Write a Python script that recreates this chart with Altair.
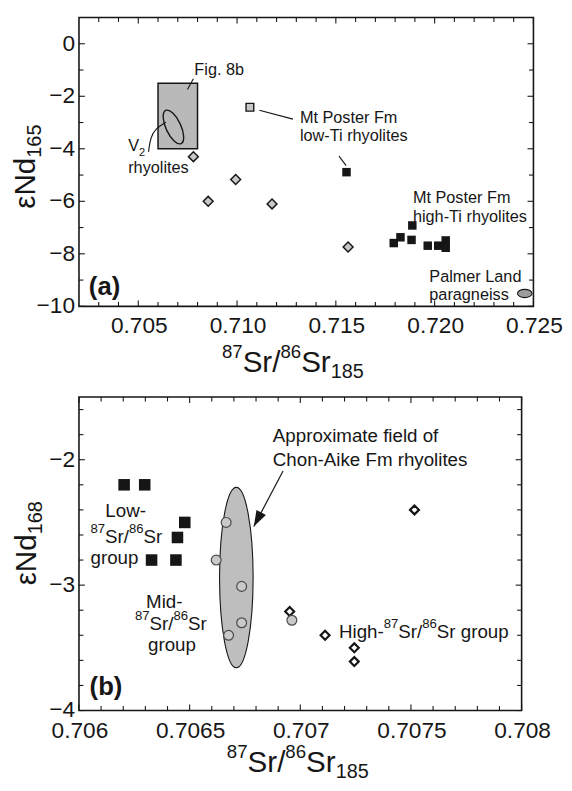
import altair as alt
import pandas as pd

FONT = "Liberation Sans"
INK = "#161616"
CHART_W, CHART_H = 564, 783

# ---------------- values: panel (a) ----------------
a_x_domain = [0.702, 0.725]
a_y_domain = [-10.0, 1.0]
a_x_major = [0.705, 0.710, 0.715, 0.720, 0.725]
a_x_labels = ["0.705", "0.710", "0.715", "0.720", "0.725"]
a_x_minor = [0.703, 0.704, 0.706, 0.707, 0.708, 0.709, 0.711, 0.712, 0.713,
             0.714, 0.716, 0.717, 0.718, 0.719, 0.721, 0.722, 0.723, 0.724]
a_y_major = [-10, -8, -6, -4, -2, 0]
a_y_labels = ["\u221210", "\u22128", "\u22126", "\u22124", "\u22122", "0"]
a_y_minor = [-9, -7, -5, -3, -1]

a_dia_x = [0.70779, 0.70854, 0.70993, 0.71177, 0.71562]
a_dia_y = [-4.30, -6.00, -5.17, -6.10, -7.74]
a_lowti_open_x = [0.71065]
a_lowti_open_y = [-2.42]
a_lowti_x = [0.71554]
a_lowti_y = [-4.89]
a_highti_x = [0.71793, 0.71827, 0.71887, 0.71883, 0.71965, 0.72018, 0.72056, 0.72056]
a_highti_y = [-7.59, -7.37, -6.92, -7.47, -7.69, -7.69, -7.49, -7.77]
a_box_x = [0.706, 0.708]
a_box_y = [-4.0, -1.5]
a_v2_x = [0.70678]
a_v2_y = [-3.17]
a_palmer_x = [0.72456]
a_palmer_y = [-9.51]

a_note_text = ["Fig. 8b", "Mt Poster Fm", "low-Ti rhyolites", "Mt Poster Fm",
               "high-Ti rhyolites", "Palmer Land", "paragneiss", "rhyolites"]
a_note_x = [0.70784, 0.71318, 0.71318, 0.71890, 0.71890, 0.71973, 0.71973, 0.70449]
a_note_y = [-1.20, -3.00, -3.71, -6.06, -6.79, -9.06, -9.74, -4.93]
a_v_x = [0.70449]
a_v_y = [-4.09]
a_tag_x = [0.7025]
a_tag_y = [-9.55]
a_lead_x = [0.70749, 0.71113, 0.71516]
a_lead_y = [-1.74, -2.53, -4.28]
a_lead_x2 = [0.70779, 0.71283, 0.71552]
a_lead_y2 = [-1.33, -2.87, -4.64]
a_curve_x = [0.70552, 0.70562, 0.70590, 0.70640]
a_curve_y = [-4.12, -3.55, -3.21, -2.99]

# ---------------- values: panel (b) ----------------
b_x_domain = [0.706, 0.708]
b_y_domain = [-4.0, -1.5]
b_x_major = [0.706, 0.7065, 0.707, 0.7075, 0.708]
b_x_labels = ["0.706", "0.7065", "0.707", "0.7075", "0.708"]
b_x_minor = [0.7061, 0.7062, 0.7063, 0.7064, 0.7066, 0.7067, 0.7068, 0.7069,
             0.7071, 0.7072, 0.7073, 0.7074, 0.7076, 0.7077, 0.7078, 0.7079]
b_y_major = [-4, -3, -2]
b_y_labels = ["\u22124", "\u22123", "\u22122"]
b_y_minor = [-3.8, -3.6, -3.4, -3.2, -2.8, -2.6, -2.4, -2.2, -1.8, -1.6]

b_sq_x = [0.706204, 0.706297, 0.706478, 0.706445, 0.706328, 0.706438]
b_sq_y = [-2.20, -2.20, -2.50, -2.62, -2.80, -2.80]
b_circ_x = [0.706665, 0.706620, 0.706735, 0.706735, 0.706676, 0.706962]
b_circ_y = [-2.50, -2.80, -3.01, -3.30, -3.40, -3.28]
b_dia_x = [0.707516, 0.706952, 0.707112, 0.707244, 0.707244]
b_dia_y = [-2.40, -3.21, -3.40, -3.50, -3.61]
b_field_x = [0.706711]
b_field_y = [-2.94]

b_note_text = ["Approximate field of", "Chon-Aike Fm rhyolites", "Low-", "group", "Mid-", "group"]
b_note_x = [0.706876, 0.706876, 0.706119, 0.706052, 0.706303, 0.706312]
b_note_y = [-1.862, -2.050, -2.459, -2.829, -3.182, -3.528]
b_iso_x = [0.706052, 0.706253]
b_iso_y = [-2.664, -3.355]
b_high_x = [0.707175]
b_high_y = [-3.418]
b_tag_x = [0.706048]
b_tag_y = [-3.877]
b_arrow_x = [0.706922]
b_arrow_y = [-2.09]
b_arrow_x2 = [0.70679]
b_arrow_y2 = [-2.532]

# ---------------- layout (pixels in chart space) ----------------
SA_X = alt.Scale(domain=a_x_domain, range=[72, 533], nice=False, zero=False)
SA_Y = alt.Scale(domain=a_y_domain, range=[297, 4], nice=False, zero=False)
SB_X = alt.Scale(domain=b_x_domain, range=[72, 521], nice=False, zero=False)
SB_Y = alt.Scale(domain=b_y_domain, range=[707, 389], nice=False, zero=False)

CW = {".": .278, "S": .667, "r": .333, "/": .278, " ": .278, "\u03b5": .45, "N": .722,
      "d": .556, "V": .667, "H": .722, "i": .222, "g": .556, "h": .556, "-": .333}


def tw(s, size):
    return sum(CW.get(c, 0.556) for c in s) * size


def enc_xy(xs, ys):
    return dict(x=alt.X("x:Q", scale=xs, axis=None), y=alt.Y("y:Q", scale=ys, axis=None))


def xy(xv, yv):
    return pd.DataFrame({"x": xv, "y": yv})


def ellipse_path(rx, ry):
    k = 0.5523
    f = lambda v: f"{v:.4f}"
    return (f"M{f(rx)},0 C{f(rx)},{f(k*ry)} {f(k*rx)},{f(ry)} 0,{f(ry)} "
            f"C{f(-k*rx)},{f(ry)} {f(-rx)},{f(k*ry)} {f(-rx)},0 "
            f"C{f(-rx)},{f(-k*ry)} {f(-k*rx)},{f(-ry)} 0,{f(-ry)} "
            f"C{f(k*rx)},{f(-ry)} {f(rx)},{f(-k*ry)} {f(rx)},0 Z")


def points(df, xs, ys, shape, size, fill, stroke=None, sw=0, angle=0):
    kw = dict(shape=shape, size=size, opacity=1, angle=angle)
    if fill is None:
        kw.update(filled=False, fill="transparent")
    else:
        kw.update(filled=True, fill=fill)
    if stroke is not None:
        kw.update(stroke=stroke, strokeWidth=sw)
    else:
        kw.update(strokeWidth=0)
    return alt.Chart(df).mark_point(**kw).encode(**enc_xy(xs, ys))


def rich(df, enc, pieces, size, angle=None, sup_ratio=0.65, sup_dy=0.48, sub_ratio=0.66, sub_dy=0.2):
    layers = []
    off = 0.0
    for txt, role in pieces:
        if role == "sup":
            fs, dy = size * sup_ratio, -size * sup_dy
        elif role == "sub":
            fs, dy = size * sub_ratio, size * sub_dy
        else:
            fs, dy = size, 0
        lead = len(txt) - len(txt.lstrip(" "))
        off += tw(" " * lead, fs)
        txt = txt.lstrip(" ")
        props = dict(text=txt, fontSize=fs, font=FONT, color=INK, align="left",
                     baseline="alphabetic", dx=off, dy=dy)
        if angle is not None:
            props["angle"] = angle
        layers.append(alt.Chart(df).mark_text(**props).encode(**enc))
        off += tw(txt, fs)
    return layers


def axes(xd, yd, xs, ys, xmaj, xlab, xmin, ymaj, ylab, ymin, xlab_dy):
    L_MAJ, L_MIN = 6, 4.5
    layers = []
    for vals, ln in ((xmaj, L_MAJ), (xmin, L_MIN)):
        df = pd.DataFrame({"v": vals, "yb": yd[0], "yt": yd[1]})
        layers.append(alt.Chart(df).mark_rule(color=INK, strokeWidth=1.1, y2Offset=-ln).encode(
            x=alt.X("v:Q", scale=xs, axis=None), y=alt.Y("yb:Q", scale=ys, axis=None), y2="yb:Q"))
        layers.append(alt.Chart(df).mark_rule(color=INK, strokeWidth=1.1, y2Offset=ln).encode(
            x=alt.X("v:Q", scale=xs, axis=None), y=alt.Y("yt:Q", scale=ys, axis=None), y2="yt:Q"))
    for vals, ln in ((ymaj, L_MAJ), (ymin, L_MIN)):
        df = pd.DataFrame({"v": vals, "xl": xd[0], "xr": xd[1]})
        layers.append(alt.Chart(df).mark_rule(color=INK, strokeWidth=1.1, x2Offset=ln).encode(
            y=alt.Y("v:Q", scale=ys, axis=None), x=alt.X("xl:Q", scale=xs, axis=None), x2="xl:Q"))
        layers.append(alt.Chart(df).mark_rule(color=INK, strokeWidth=1.1, x2Offset=-ln).encode(
            y=alt.Y("v:Q", scale=ys, axis=None), x=alt.X("xr:Q", scale=xs, axis=None), x2="xr:Q"))
    dfx = pd.DataFrame({"v": xmaj, "lab": xlab, "yb": yd[0]})
    layers.append(alt.Chart(dfx).mark_text(font=FONT, fontSize=23, color=INK, align="center",
                                           baseline="alphabetic", dy=xlab_dy, dx=1).encode(
        x=alt.X("v:Q", scale=xs, axis=None), y=alt.Y("yb:Q", scale=ys, axis=None), text="lab:N"))
    dfy = pd.DataFrame({"v": ymaj, "lab": ylab, "xl": xd[0]})
    layers.append(alt.Chart(dfy).mark_text(font=FONT, fontSize=23, color=INK, align="right",
                                           baseline="middle", dx=-4).encode(
        y=alt.Y("v:Q", scale=ys, axis=None), x=alt.X("xl:Q", scale=xs, axis=None), text="lab:N"))
    frame = pd.DataFrame({"x0": [xd[0]], "x1": [xd[1]], "y0": [yd[0]], "y1": [yd[1]]})
    layers.append(alt.Chart(frame).mark_rect(fillOpacity=0, stroke=INK, strokeWidth=1.6).encode(
        x=alt.X("x0:Q", scale=xs, axis=None), x2="x1:Q",
        y=alt.Y("y0:Q", scale=ys, axis=None), y2="y1:Q"))
    return layers


# ---------------- panel (a) ----------------
A = []
box = pd.DataFrame({"x0": [a_box_x[0]], "x1": [a_box_x[1]], "y0": [a_box_y[0]], "y1": [a_box_y[1]]})
A.append(alt.Chart(box).mark_rect(fill="#b9b9b9", stroke=INK, strokeWidth=1.5).encode(
    x=alt.X("x0:Q", scale=SA_X, axis=None), x2="x1:Q",
    y=alt.Y("y0:Q", scale=SA_Y, axis=None), y2="y1:Q"))
A.append(points(xy(a_v2_x, a_v2_y), SA_X, SA_Y, ellipse_path(0.41, 1.0), 1369, None, INK, 1.4, angle=335))
lead = pd.DataFrame({"x": a_lead_x, "y": a_lead_y, "x2": a_lead_x2, "y2": a_lead_y2})
A.append(alt.Chart(lead).mark_rule(color=INK, strokeWidth=1.1).encode(
    x=alt.X("x:Q", scale=SA_X, axis=None), y=alt.Y("y:Q", scale=SA_Y, axis=None), x2="x2:Q", y2="y2:Q"))
curve = pd.DataFrame({"x": a_curve_x, "y": a_curve_y, "o": list(range(len(a_curve_x)))})
A.append(alt.Chart(curve).mark_line(color=INK, strokeWidth=1.1, interpolate="basis").encode(
    x=alt.X("x:Q", scale=SA_X, axis=None), y=alt.Y("y:Q", scale=SA_Y, axis=None), order="o:Q"))
A.append(points(xy(a_dia_x, a_dia_y), SA_X, SA_Y, "diamond", 100, "#c8c8c8", INK, 1.5))
A.append(points(xy(a_lowti_open_x, a_lowti_open_y), SA_X, SA_Y, "square", 62, "#c8c8c8", INK, 1.4))
A.append(points(xy(a_lowti_x, a_lowti_y), SA_X, SA_Y, "square", 74, INK))
A.append(points(xy(a_highti_x, a_highti_y), SA_X, SA_Y, "square", 74, INK))
A.append(points(xy(a_palmer_x, a_palmer_y), SA_X, SA_Y, ellipse_path(1.0, 0.57), 216, "#9c9c9c", INK, 1.1))
notes_a = pd.DataFrame({"x": a_note_x, "y": a_note_y, "t": a_note_text})
A.append(alt.Chart(notes_a).mark_text(font=FONT, fontSize=16.5, color=INK, align="left",
                                      baseline="alphabetic").encode(text="t:N", **enc_xy(SA_X, SA_Y)))
A += rich(xy(a_v_x, a_v_y), enc_xy(SA_X, SA_Y), [("V", "n"), ("2", "sub")], 16.5, sub_ratio=0.68, sub_dy=0.3)
A.append(alt.Chart(xy(a_tag_x, a_tag_y)).mark_text(text="(a)", font=FONT, fontSize=26, fontWeight="bold",
                                                  color=INK, align="left", baseline="alphabetic").encode(
    **enc_xy(SA_X, SA_Y)))
A += axes(a_x_domain, a_y_domain, SA_X, SA_Y, a_x_major, a_x_labels, a_x_minor,
          a_y_major, a_y_labels, a_y_minor, 27)
panel_a = alt.layer(*A)

# ---------------- panel (b) ----------------
B = []
B.append(points(xy(b_field_x, b_field_y), SB_X, SB_Y, ellipse_path(0.186, 1.0), 183 * 183, "#bebebe", INK, 1.1))
arrow = pd.DataFrame({"x": b_arrow_x, "y": b_arrow_y, "x2": b_arrow_x2, "y2": b_arrow_y2})
B.append(alt.Chart(arrow).mark_rule(color=INK, strokeWidth=1.2).encode(
    x=alt.X("x:Q", scale=SB_X, axis=None), y=alt.Y("y:Q", scale=SB_Y, axis=None), x2="x2:Q", y2="y2:Q"))
B.append(points(xy(b_arrow_x2, b_arrow_y2), SB_X, SB_Y, "M0,0 L0.34,1 L-0.34,1 Z", 1024, INK, angle=208))
B.append(points(xy(b_sq_x, b_sq_y), SB_X, SB_Y, "square", 137, INK))
B.append(points(xy(b_dia_x, b_dia_y), SB_X, SB_Y, "diamond", 82, "white", INK, 2.2))
B.append(points(xy(b_circ_x, b_circ_y), SB_X, SB_Y, "circle", 100, "#c9c9c9", "#4a4a4a", 1.2))
notes_b = pd.DataFrame({"x": b_note_x, "y": b_note_y, "t": b_note_text})
B.append(alt.Chart(notes_b).mark_text(font=FONT, fontSize=19, color=INK, align="left",
                                      baseline="alphabetic").encode(text="t:N", **enc_xy(SB_X, SB_Y)))
ISO = [("87", "sup"), ("Sr/", "n"), ("86", "sup"), ("Sr", "n")]
B += rich(xy(b_iso_x, b_iso_y), enc_xy(SB_X, SB_Y), ISO, 19, sup_ratio=0.7, sup_dy=0.52)
B += rich(xy(b_high_x, b_high_y), enc_xy(SB_X, SB_Y),
          [("High-", "n")] + ISO + [(" group", "n")], 19, sup_ratio=0.7, sup_dy=0.52)
B.append(alt.Chart(xy(b_tag_x, b_tag_y)).mark_text(text="(b)", font=FONT, fontSize=26, fontWeight="bold",
                                                  color=INK, align="left", baseline="alphabetic").encode(
    **enc_xy(SB_X, SB_Y)))
B += axes(b_x_domain, b_y_domain, SB_X, SB_Y, b_x_major, b_x_labels, b_x_minor,
          b_y_major, b_y_labels, b_y_minor, 28)
panel_b = alt.layer(*B)

# ---------------- axis titles (rich text) ----------------
ONE = pd.DataFrame({"k": [0]})
XT = [("87", "sup"), ("Sr/", "n"), ("86", "sup"), ("Sr", "n"), ("185", "sub")]
T = []
T += rich(ONE, dict(x=alt.value(217), y=alt.value(364)), XT, 30, sup_ratio=0.63, sup_dy=0.47, sub_ratio=0.67)
T += rich(ONE, dict(x=alt.value(222), y=alt.value(769)), XT, 30, sup_ratio=0.63, sup_dy=0.47, sub_ratio=0.67)
T += rich(ONE, dict(x=alt.value(27), y=alt.value(198)), [("\u03b5Nd", "n"), ("165", "sub")], 30,
          angle=270, sub_ratio=0.67, sub_dy=0.22)
T += rich(ONE, dict(x=alt.value(28), y=alt.value(580)), [("\u03b5Nd", "n"), ("168", "sub")], 30,
          angle=270, sub_ratio=0.67, sub_dy=0.22)

chart = alt.layer(panel_a, panel_b, *T).resolve_scale(
    x="independent", y="independent"
).properties(
    width=CHART_W, height=CHART_H, padding=0,
    autosize=alt.AutoSizeParams(type="none"),
    background="white",
).configure_view(stroke=None)

chart.save("out.html", embed_options={"renderer": "svg", "actions": False})
